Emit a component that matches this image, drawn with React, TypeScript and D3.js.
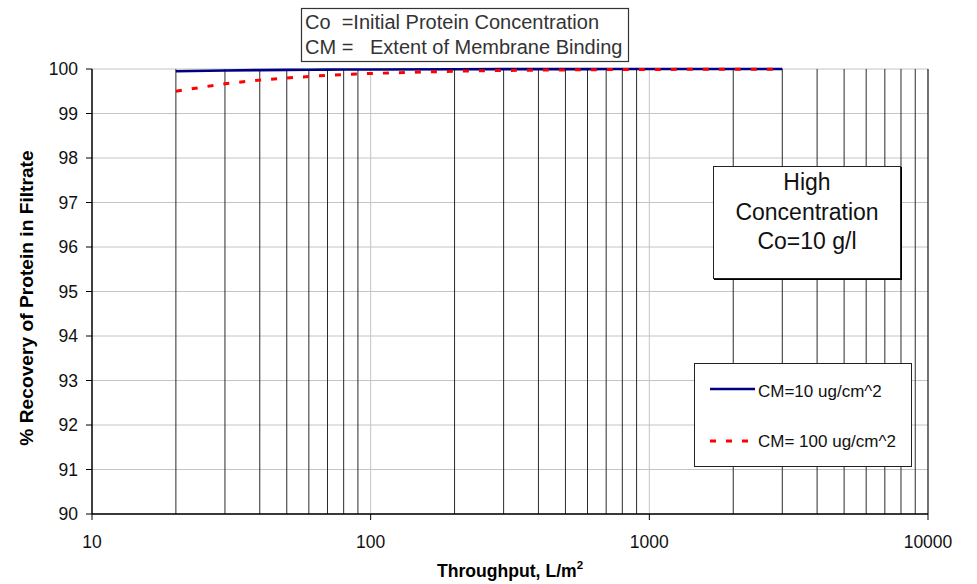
import * as React from "react";
import * as d3 from "d3";

const W = 977;
const H = 584;

// throughput, L/m^2
const throughput = [20, 30, 40, 50, 60, 70, 80, 90, 100, 200, 300, 400, 500, 600, 700, 800, 900, 1000, 2000, 3000];
// % recovery, CM = 10 ug/cm^2
const recoveryCM10 = [99.95, 99.967, 99.975, 99.98, 99.983, 99.986, 99.988, 99.989, 99.99, 99.995, 99.997, 99.997, 99.998, 99.998, 99.999, 99.999, 99.999, 99.999, 100, 100];
// % recovery, CM = 100 ug/cm^2
const recoveryCM100 = [99.5, 99.67, 99.75, 99.8, 99.83, 99.86, 99.875, 99.89, 99.9, 99.95, 99.967, 99.975, 99.98, 99.983, 99.986, 99.988, 99.989, 99.99, 99.995, 99.997];

const xTicks = [10, 100, 1000, 10000];
const xMinor = [20, 30, 40, 50, 60, 70, 80, 90, 200, 300, 400, 500, 600, 700, 800, 900, 2000, 3000, 4000, 5000, 6000, 7000, 8000, 9000];
const yTicks = [90, 91, 92, 93, 94, 95, 96, 97, 98, 99, 100];

const FONT = "'Liberation Sans', Arial, sans-serif";

export default function App() {
  const x = d3.scaleLog().domain([10, 10000]).range([92, 928]);
  const y = d3.scaleLinear().domain([90, 100]).range([514, 69]);

  const line = d3
    .line<number>()
    .x((_, i) => x(throughput[i]))
    .y((d) => y(d));

  const [x0, x1] = x.range();
  const [y0, y1] = y.range();

  return (
    <div style={{ position: "fixed", left: 0, top: 0 }}>
      <svg width={W} height={H} style={{ display: "block", background: "#fff" }} fontFamily={FONT}>
        {/* horizontal grid */}
        {yTicks.map((t) => (
          <line key={"hg" + t} x1={x0} x2={x1} y1={y(t)} y2={y(t)} stroke="#c4c4c4" strokeWidth={1} />
        ))}
        {/* decade grid */}
        {xTicks.slice(1, 3).map((t) => (
          <line key={"vg" + t} x1={x(t)} x2={x(t)} y1={y1} y2={y0} stroke="#c4c4c4" strokeWidth={1} />
        ))}
        {/* minor verticals */}
        {xMinor.map((t) => (
          <line key={"vm" + t} x1={x(t)} x2={x(t)} y1={y1} y2={y0} stroke="#2a2a2a" strokeWidth={1} />
        ))}
        <line x1={x1} x2={x1} y1={y1} y2={y0} stroke="#111" strokeWidth={1.2} />

        {/* axes */}
        <line x1={x0} x2={x0} y1={y1} y2={y0} stroke="#000" strokeWidth={1.5} />
        <line x1={x0} x2={x1} y1={y0} y2={y0} stroke="#000" strokeWidth={1.5} />
        {yTicks.map((t) => (
          <g key={"yt" + t}>
            <line x1={x0 - 6} x2={x0} y1={y(t)} y2={y(t)} stroke="#000" strokeWidth={1} />
            <text x={78} y={y(t)} dy="0.36em" textAnchor="end" fontSize={17.5} fill="#111">
              {t}
            </text>
          </g>
        ))}
        {xTicks.map((t) => (
          <g key={"xt" + t}>
            <line x1={x(t)} x2={x(t)} y1={y0} y2={y0 + 6} stroke="#000" strokeWidth={1} />
            <text x={x(t)} y={548} textAnchor="middle" fontSize={17.5} fill="#111">
              {t}
            </text>
          </g>
        ))}

        {/* series */}
        <path d={line(recoveryCM10) ?? ""} fill="none" stroke="#000080" strokeWidth={2.6} />
        <path d={line(recoveryCM100) ?? ""} fill="none" stroke="#ff0000" strokeWidth={3} strokeDasharray="6 10" />

        {/* axis titles */}
        <text x={510} y={577} textAnchor="middle" fontSize={17.6} fontWeight="bold" fill="#000">
          Throughput, L/m<tspan fontSize={11.5} dy={-8}>2</tspan>
        </text>
        <text transform="translate(33,298) rotate(-90)" textAnchor="middle" fontSize={19.2} fontWeight="bold" fill="#000">
          % Recovery of Protein in Filtrate
        </text>

        {/* definitions box */}
        <rect x={301.5} y={8.5} width={327} height={53} fill="#fff" stroke="#333" strokeWidth={1.2} />
        <text x={305} y={29} fontSize={20} fill="#333" style={{ whiteSpace: "pre" }}>
          {"Co  =Initial Protein Concentration"}
        </text>
        <text x={305} y={54} fontSize={20} fill="#333" style={{ whiteSpace: "pre" }}>
          {"CM =   Extent of Membrane Binding"}
        </text>

        {/* concentration box */}
        <rect x={714} y={167} width={188} height={113} fill="#000" />
        <rect x={713.5} y={166.5} width={187} height={112} fill="#fff" stroke="#222" strokeWidth={1} />
        <text x={807} y={190} textAnchor="middle" fontSize={23} fill="#111">High</text>
        <text x={807} y={220} textAnchor="middle" fontSize={23} fill="#111">Concentration</text>
        <text x={807} y={249} textAnchor="middle" fontSize={23} fill="#111">Co=10 g/l</text>

        {/* legend */}
        <rect x={694.5} y={363.5} width={217} height={103} fill="#fff" stroke="#222" strokeWidth={1} />
        <line x1={710} x2={755} y1={389} y2={389} stroke="#000080" strokeWidth={2.6} />
        <text x={758} y={397} fontSize={17} fill="#111">CM=10 ug/cm^2</text>
        <line x1={710} x2={755} y1={441} y2={441} stroke="#ff0000" strokeWidth={3} strokeDasharray="6 10" />
        <text x={758} y={447} fontSize={17} fill="#111">CM= 100 ug/cm^2</text>
      </svg>
    </div>
  );
}
